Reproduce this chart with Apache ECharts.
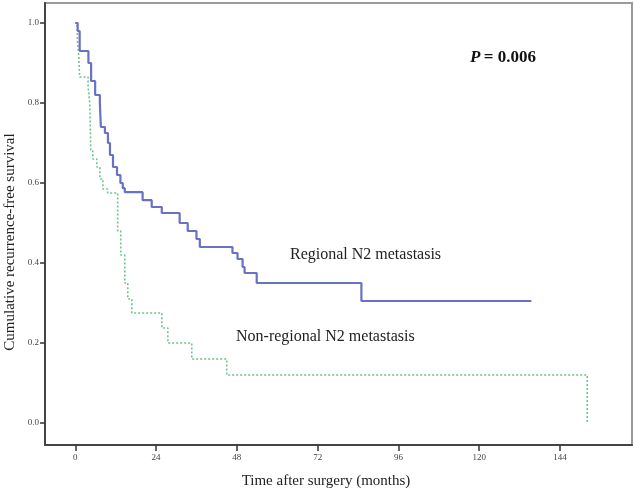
<!DOCTYPE html>
<html>
<head>
<meta charset="utf-8">
<script src="https://cdn.jsdelivr.net/npm/echarts@6/dist/echarts.min.js"></script>
<style>html,body{margin:0;padding:0;background:#fff;}#c{width:634px;height:492px;}</style>
</head>
<body>
<div id="c"></div>
<script>
// Regional N2 metastasis (Kaplan-Meier step points: month, survival)
const regionalTime = [0, 0.7, 1.3, 3.9, 4.7, 5.9, 7.3, 7.6, 8.8, 9.7, 10.3, 11.2, 12.4, 13.4, 14.1, 14.7, 20, 22.7, 25.7, 31, 33.4, 36, 37, 46.7, 48.2, 49.7, 50.3, 53.9, 85, 135.5];
const regionalSurv = [1.0, 0.98, 0.93, 0.90, 0.855, 0.82, 0.80, 0.74, 0.725, 0.70, 0.67, 0.64, 0.62, 0.60, 0.587, 0.577, 0.557, 0.54, 0.525, 0.50, 0.48, 0.46, 0.44, 0.425, 0.41, 0.39, 0.375, 0.35, 0.305, 0.305];
// Non-regional N2 metastasis
const nonRegionalTime = [0, 0.6, 1.0, 1.3, 3.8, 4.3, 4.6, 5.2, 6.4, 7.3, 8.2, 9.6, 12.6, 13.5, 14.7, 15.6, 16.8, 25.7, 27.5, 34.6, 45, 152.1];
const nonRegionalSurv = [1.0, 0.96, 0.92, 0.865, 0.84, 0.80, 0.68, 0.66, 0.64, 0.61, 0.585, 0.575, 0.48, 0.42, 0.35, 0.31, 0.275, 0.2375, 0.20, 0.16, 0.12, 0.0];
const xTicks = [0, 24, 48, 72, 96, 120, 144];
const yTicks = [0.0, 0.2, 0.4, 0.6, 0.8, 1.0];
const labels = {
  regional: 'Regional N2 metastasis',
  nonRegional: 'Non-regional N2 metastasis',
  xTitle: 'Time after surgery (months)',
  yTitle: 'Cumulative recurrence-free survival',
  pValue: '0.006'
};

const regionalData = regionalTime.map((t, i) => [t, regionalSurv[i]]);
const nonRegionalData = nonRegionalTime.map((t, i) => [t, nonRegionalSurv[i]]);

const serif = '"Liberation Serif", "Times New Roman", serif';
const chart = echarts.init(document.getElementById('c'), null, {renderer: 'canvas'});
chart.setOption({
  animation: false,
  backgroundColor: '#fff',
  grid: {left: 45, right: 2, top: 3, bottom: 47, show: true, borderColor: '#9a9a9a', borderWidth: 2, backgroundColor: 'transparent'},
  xAxis: {
    type: 'value', min: -9, max: 165.4,
    axisLine: {show: true, onZero: false, lineStyle: {color: '#444', width: 2}},
    axisTick: {show: true, customValues: xTicks, length: 6, inside: false, lineStyle: {color: '#333', width: 1.5}},
    axisLabel: {customValues: xTicks, fontFamily: serif, fontSize: 9, color: '#444', margin: 8},
    splitLine: {show: false}
  },
  yAxis: {
    type: 'value', min: -0.055, max: 1.05,
    axisLine: {show: true, onZero: false, lineStyle: {color: '#444', width: 2}},
    axisTick: {show: true, customValues: yTicks, length: 5, lineStyle: {color: '#333', width: 1.5}},
    axisLabel: {customValues: yTicks, formatter: v => v.toFixed(1), fontFamily: serif, fontSize: 9, color: '#444', margin: 6},
    splitLine: {show: false}
  },
  series: [
    {type: 'line', name: labels.nonRegional, step: 'end', data: nonRegionalData, symbol: 'none',
     lineStyle: {color: '#72c28e', width: 1.6, type: [2, 2]}, z: 2},
    {type: 'line', name: labels.regional, step: 'end', data: regionalData, symbol: 'none',
     lineStyle: {color: '#6a70c4', width: 2.2}, z: 3}
  ],
  graphic: [
    {type: 'text', x: 290, y: 255, style: {text: labels.regional, font: '16px ' + serif, fill: '#222', verticalAlign: 'middle'}},
    {type: 'text', x: 236, y: 337, style: {text: labels.nonRegional, font: '16px ' + serif, fill: '#222', verticalAlign: 'middle'}},
    {type: 'text', x: 470, y: 58, style: {
      text: '{p|P} {b|= ' + labels.pValue + '}',
      verticalAlign: 'middle',
      rich: {
        p: {font: 'italic bold 17px ' + serif, fill: '#111'},
        b: {font: 'bold 17px ' + serif, fill: '#111'}
      }}},
    {type: 'text', x: 326, y: 481, style: {text: labels.xTitle, font: '15px ' + serif, fill: '#222', align: 'center', verticalAlign: 'middle'}},
    {type: 'text', x: 10, y: 242, rotation: Math.PI / 2, style: {text: labels.yTitle, font: '15px ' + serif, fill: '#222', align: 'center', verticalAlign: 'middle'}}
  ]
});
</script>
</body>
</html>
